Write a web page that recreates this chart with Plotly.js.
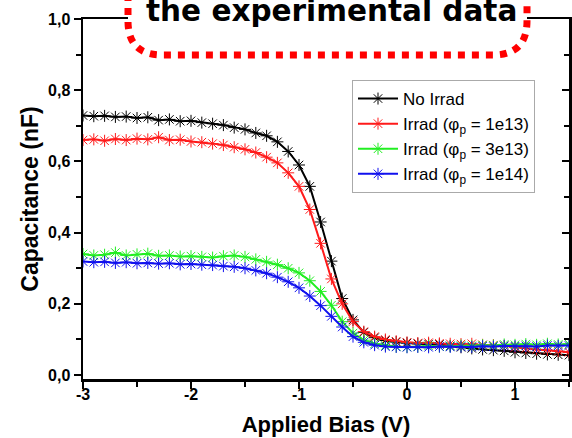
<!DOCTYPE html>
<html>
<head>
<meta charset="utf-8">
<script src="https://cdn.plot.ly/plotly-3.0.1.min.js"></script>
<style>html,body{margin:0;padding:0;background:#fff;}#chart{width:572px;height:438px;}</style>
</head>
<body>
<div id="chart"></div>
<script>
const biasV = [-3.0,-2.9,-2.8,-2.7,-2.6,-2.5,-2.4,-2.3,-2.2,-2.1,-2.0,-1.9,-1.8,-1.7,-1.6,-1.5,-1.4,-1.3,-1.2,-1.1,-1.0,-0.9,-0.8,-0.7,-0.6,-0.5,-0.4,-0.3,-0.2,-0.1,0.0,0.1,0.2,0.3,0.4,0.5,0.6,0.7,0.8,0.9,1.0,1.1,1.2,1.3,1.4,1.5];
const noIrrad = [0.729,0.727,0.728,0.725,0.726,0.722,0.724,0.716,0.718,0.713,0.714,0.709,0.706,0.702,0.695,0.690,0.680,0.672,0.655,0.628,0.590,0.530,0.430,0.320,0.215,0.155,0.120,0.105,0.097,0.093,0.090,0.088,0.087,0.086,0.082,0.078,0.075,0.072,0.070,0.068,0.064,0.062,0.060,0.058,0.057,0.056];
const irrad1e13 = [0.660,0.662,0.658,0.663,0.660,0.664,0.662,0.668,0.660,0.661,0.656,0.654,0.650,0.646,0.640,0.634,0.625,0.612,0.596,0.568,0.530,0.465,0.370,0.270,0.200,0.150,0.122,0.108,0.100,0.095,0.092,0.090,0.091,0.089,0.088,0.087,0.088,0.085,0.084,0.082,0.078,0.075,0.072,0.070,0.067,0.064];
const irrad3e13 = [0.340,0.336,0.338,0.344,0.336,0.339,0.341,0.335,0.336,0.333,0.334,0.332,0.330,0.334,0.336,0.332,0.325,0.318,0.310,0.300,0.287,0.265,0.235,0.196,0.150,0.118,0.098,0.088,0.083,0.080,0.079,0.080,0.082,0.080,0.081,0.083,0.082,0.084,0.083,0.086,0.085,0.087,0.085,0.088,0.086,0.087];
const irrad1e14 = [0.319,0.317,0.318,0.315,0.317,0.314,0.315,0.313,0.314,0.311,0.312,0.310,0.309,0.306,0.304,0.300,0.294,0.286,0.275,0.262,0.245,0.222,0.195,0.165,0.135,0.108,0.092,0.084,0.080,0.079,0.078,0.079,0.078,0.080,0.079,0.080,0.079,0.081,0.080,0.082,0.081,0.082,0.080,0.083,0.082,0.083];

const seriesNames = ["No Irrad","Irrad (\u03c6<sub>p</sub> = 1e13)","Irrad (\u03c6<sub>p</sub> = 3e13)","Irrad (\u03c6<sub>p</sub> = 1e14)"];
const seriesColors = ["#000000","#ff1a1a","#22ee22","#1010ee"];
const seriesValues = [noIrrad, irrad1e13, irrad3e13, irrad1e14];

const xTickVals = [-3,-2,-1,0,1];
const xTickText = ["-3","-2","-1","0","1"];
const yTickVals = [0,0.2,0.4,0.6,0.8,1.0];
const yTickText = ["0,0","0,2","0,4","0,6","0,8","1,0"];
const noteText = "the experimental data";

const traces = seriesValues.map((vals,i)=>({
  type:'scatter', mode:'lines+markers', x:biasV, y:vals, name:seriesNames[i],
  line:{color:seriesColors[i], width:2},
  marker:{symbol:'asterisk-open', size:10, color:seriesColors[i], line:{color:seriesColors[i], width:1}}
}));
traces.push({type:'scatter', x:[], y:[], yaxis:'y2', showlegend:false, hoverinfo:'skip'});

const W=572,H=438,L=83,R=3,T=19,B=59;
const pw=W-L-R, ph=H-T-B;
const px=v=>(v-L)/pw, py=v=>(H-B-v)/ph;
const bl=128, br=527, bb=55, bt=-20, rad=34;
const path = `M ${px(bl)},${py(bt)} L ${px(bl)},${py(bb-rad)} Q ${px(bl)},${py(bb)} ${px(bl+rad)},${py(bb)} L ${px(br-rad)},${py(bb)} Q ${px(br)},${py(bb)} ${px(br)},${py(bb-rad)} L ${px(br)},${py(bt)} Z`;

const tickFont = {family:'Liberation Sans, Arial, sans-serif', size:16, color:'#000', weight:'bold'};

const layout = {
  width:W, height:H, margin:{l:L,r:R,t:T,b:B,pad:0},
  paper_bgcolor:'#fff', plot_bgcolor:'#fff', showlegend:true,
  separators:',.',
  xaxis:{range:[-3,1.5], tickvals:xTickVals, ticktext:xTickText, ticks:'outside', ticklen:7, tickwidth:2, tickcolor:'#000',
    showline:true, linewidth:2.5, linecolor:'#000', mirror:true, showgrid:false, zeroline:false, ticklabelstandoff:-8,
    minor:{dtick:0.5, tick0:0, ticks:'outside', ticklen:5, tickwidth:2, tickcolor:'#000', showgrid:false},
    tickfont:tickFont, title:{text:'Applied Bias (V)', font:{family:'Liberation Sans, Arial, sans-serif', size:22, color:'#000', weight:'bold'}, standoff:15}},
  yaxis:{range:[-0.011,1.0], tickvals:yTickVals, ticktext:yTickText, ticks:'outside', ticklen:7, tickwidth:2, tickcolor:'#000',
    showline:true, linewidth:2.5, linecolor:'#000', mirror:true, showgrid:false, zeroline:false,
    minor:{dtick:0.1, tick0:0, ticks:'outside', ticklen:5, tickwidth:2, tickcolor:'#000', showgrid:false},
    tickfont:tickFont, title:{text:'Capacitance (nF)', font:{family:'Liberation Sans, Arial, sans-serif', size:23, color:'#000', weight:'bold'}, standoff:3}},
  yaxis2:{overlaying:'y', side:'right', range:[-0.011,1.0], tickvals:yTickVals, showticklabels:false, ticks:'inside', ticklen:7, tickwidth:2, tickcolor:'#000',
    minor:{dtick:0.1, tick0:0, ticks:'inside', ticklen:5, tickwidth:2, tickcolor:'#000', showgrid:false},
    showline:false, showgrid:false, zeroline:false},
  legend:{x:px(352), y:py(80), xanchor:'left', yanchor:'top', bgcolor:'#fff', bordercolor:'#aaa', borderwidth:1, itemwidth:40,
    font:{family:'Liberation Sans, Arial, sans-serif', size:17, color:'#000'}, tracegroupgap:0},
  shapes:[{type:'path', xref:'paper', yref:'paper', path:path, fillcolor:'#fff', line:{color:'#ff0000', width:7, dash:'7px,7px'}, layer:'above'}],
  annotations:[{xref:'paper', yref:'paper', x:px(331), y:py(11), xanchor:'center', yanchor:'middle', showarrow:false,
    text:'<b>'+noteText+'</b>', font:{family:'DejaVu Sans, Verdana, sans-serif', size:29.5, color:'#000'}}]
};
Plotly.newPlot('chart', traces, layout, {staticPlot:true, displayModeBar:false});
</script>
</body>
</html>
